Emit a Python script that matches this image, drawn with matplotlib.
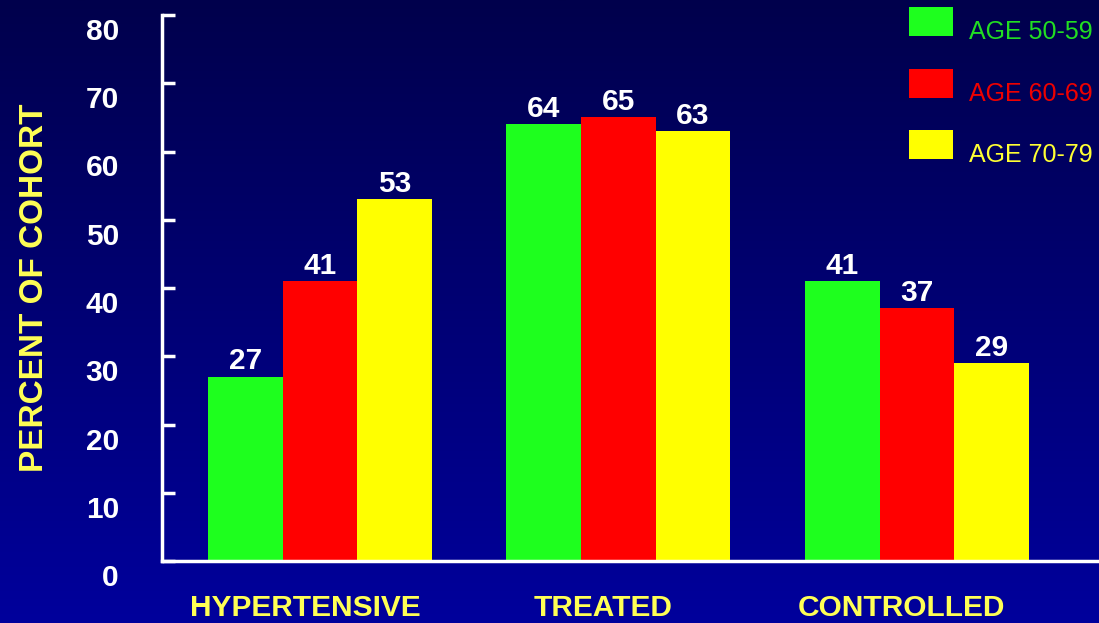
import numpy as np
import matplotlib
matplotlib.use("Agg")
import matplotlib.pyplot as plt
from matplotlib.transforms import ScaledTranslation

# Data
categories = ["HYPERTENSIVE", "TREATED", "CONTROLLED"]
age_groups = ["AGE 50-59", "AGE 60-69", "AGE 70-79"]
age_50_59 = [27, 64, 41]
age_60_69 = [41, 65, 37]
age_70_79 = [53, 63, 29]
y_ticks = [0, 10, 20, 30, 40, 50, 60, 70, 80]

series = [age_50_59, age_60_69, age_70_79]
bar_colors = ["#1eff1e", "#ff0000", "#ffff00"]
legend_text_colors = ["#22dd22", "#ee0000", "#ffff33"]
label_yellow = "#ffff55"

plt.rcParams["font.family"] = ["Liberation Sans", "DejaVu Sans"]

W, H = 1099, 623
fig = plt.figure(figsize=(W / 100, H / 100), dpi=100)

# Vertical navy gradient background
bg = fig.add_axes([0, 0, 1, 1], zorder=-10)
grad = np.linspace(0, 1, 256).reshape(-1, 1)
top = np.array([0x00, 0x00, 0x4c]) / 255
bot = np.array([0x00, 0x00, 0x9c]) / 255
img = top + (bot - top) * grad[..., None]
bg.imshow(img, aspect="auto", extent=[0, 1, 0, 1], origin="upper")
bg.set_axis_off()

# Plot area in pixel terms
left_px, right_px, top_px, bottom_px = 162, 1099, 15, 561
ax = fig.add_axes([left_px / W, (H - bottom_px) / H,
                   (right_px - left_px) / W, (bottom_px - top_px) / H])
ax.set_facecolor("none")

x = np.arange(len(categories))
width = 0.25
offsets = [-width, 0, width]
for vals, off, col in zip(series, offsets, bar_colors):
    bars = ax.bar(x + off, vals, width, color=col, edgecolor="none", zorder=2)
    for rect, v in zip(bars, vals):
        ax.annotate(f"{v}", (rect.get_x() + rect.get_width() / 2, v),
                    xytext=(0, 1), textcoords="offset points",
                    ha="center", va="bottom", color="white",
                    fontsize=21.5, fontweight="bold")

ax.set_xlim(-0.529, 2.61)
ax.set_ylim(0, 80)

for side in ["top", "right"]:
    ax.spines[side].set_visible(False)
for side in ["left", "bottom"]:
    ax.spines[side].set_color("white")
    ax.spines[side].set_linewidth(2.5)

ax.set_yticks(y_ticks)
ax.set_yticklabels([str(t) for t in y_ticks])
ax.tick_params(axis="y", direction="in", length=9, width=2.5, color="white",
               labelcolor="white", labelsize=21.5, pad=31)
for lab in ax.get_yticklabels():
    lab.set_fontweight("bold")
    lab.set_transform(lab.get_transform() + ScaledTranslation(0, -14 / 100, fig.dpi_scale_trans))

ax.set_xticks(x)
ax.set_xticklabels(categories)
ax.tick_params(axis="x", length=0, labelcolor=label_yellow, labelsize=21.5, pad=24)
for lab in ax.get_xticklabels():
    lab.set_fontweight("bold")
    lab.set_transform(lab.get_transform() + ScaledTranslation(-15 / 100, 0, fig.dpi_scale_trans))

fig.text(35 / W, 1 - 288 / H, "PERCENT OF COHORT", rotation=90,
         ha="center", va="center", color=label_yellow,
         fontsize=24, fontweight="bold")

# Legend drawn as colored boxes with colored text
box_x, box_w, box_h = 909, 44, 29
box_tops = [7, 69, 130]
for name, bc, tc, bt in zip(age_groups, bar_colors, legend_text_colors, box_tops):
    fig.patches.append(plt.Rectangle((box_x / W, 1 - (bt + box_h) / H),
                                     box_w / W, box_h / H,
                                     transform=fig.transFigure, facecolor=bc,
                                     edgecolor="none", figure=fig))
    fig.text(969 / W, 1 - (bt + 25) / H, name, ha="left", va="center",
             color=tc, fontsize=18)

fig.savefig("out.png", dpi=100)
